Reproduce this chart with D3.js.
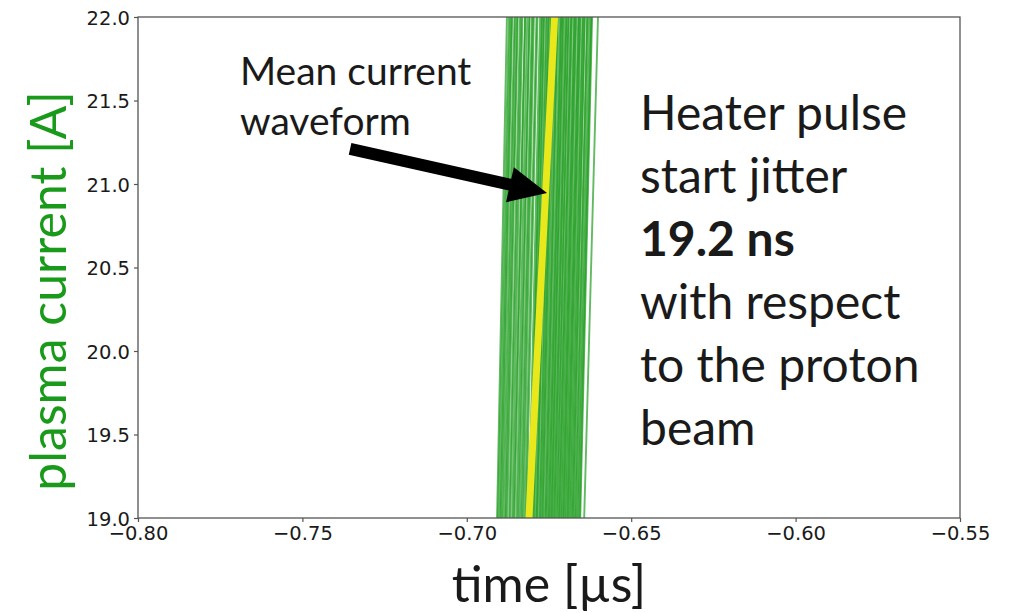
<!DOCTYPE html>
<html>
<head>
<meta charset="utf-8">
<script src="https://cdn.jsdelivr.net/npm/d3@7"></script>
<style>
  body { margin: 0; background: #fff; }
  svg { display: block; }
</style>
</head>
<body>
<svg id="chart" width="1009" height="613"></svg>
<script>
// Axis ticks
const xTicks = [-0.80, -0.75, -0.70, -0.65, -0.60, -0.55];
const yTicks = [19.0, 19.5, 20.0, 20.5, 21.0, 21.5, 22.0];
const xDomain = [-0.80, -0.55];   // time [µs]
const yDomain = [19.0, 22.0];     // plasma current [A]

// Each shot's current trace: time (µs) at which it crosses 19 A and 22 A
const shotT19 = [
  -0.6908, -0.6905, -0.6900, -0.6897, -0.6893, -0.6889, -0.6884, -0.6881, -0.6877, -0.6871,
  -0.6868, -0.6862, -0.6858, -0.6855, -0.6849, -0.6845, -0.6841, -0.6836, -0.6832, -0.6828,
  -0.6823, -0.6819,
  -0.6811, -0.6807, -0.6805, -0.6801, -0.6797, -0.6795, -0.6790, -0.6787, -0.6785, -0.6780,
  -0.6777, -0.6774, -0.6770, -0.6768, -0.6763, -0.6760, -0.6757, -0.6753, -0.6750, -0.6747,
  -0.6743, -0.6741, -0.6737, -0.6734, -0.6731, -0.6727, -0.6724, -0.6720, -0.6718, -0.6714,
  -0.6711, -0.6707, -0.6705, -0.6701, -0.6698, -0.6694, -0.6692, -0.6688, -0.6685, -0.6681,
  -0.6678, -0.6675, -0.6671, -0.6668, -0.6664, -0.6661, -0.6657, -0.6655,
  -0.6643
];
const shotT22 = [
  -0.6878, -0.6872, -0.6868, -0.6864, -0.6862, -0.6855, -0.6852, -0.6847, -0.6845, -0.6838,
  -0.6834, -0.6831, -0.6823, -0.6822, -0.6816, -0.6810, -0.6809, -0.6802, -0.6799, -0.6796,
  -0.6788, -0.6785,
  -0.6777, -0.6771, -0.6772, -0.6766, -0.6765, -0.6759, -0.6756, -0.6750, -0.6752, -0.6745,
  -0.6743, -0.6738, -0.6738, -0.6733, -0.6729, -0.6724, -0.6724, -0.6718, -0.6713, -0.6713,
  -0.6707, -0.6708, -0.6702, -0.6697, -0.6697, -0.6691, -0.6691, -0.6685, -0.6682, -0.6680,
  -0.6674, -0.6672, -0.6669, -0.6667, -0.6661, -0.6659, -0.6656, -0.6654, -0.6648, -0.6646,
  -0.6642, -0.6641, -0.6634, -0.6633, -0.6628, -0.6623, -0.6621, -0.6619,
  -0.6601
];
const shotLevels = [19.0, 22.0];

// Mean current waveform over all shots
const meanTime = [-0.6811, -0.6733];
const meanCurrent = [19.0, 22.0];

// Annotation arrow (tail, tip) in data units
const arrowTail = [-0.7355, 21.21];
const arrowTip = [-0.6756, 20.946];

const textLines = ["Heater pulse", "start jitter", "19.2 ns", "with respect", "to the proton", "beam"];

const W = 1009, H = 613;
const margin = { left: 138, right: W - 960, top: 17, bottom: H - 518 };
const svg = d3.select("#chart");

svg.append("rect").attr("width", W).attr("height", H).attr("fill", "#fff");

const x = d3.scaleLinear().domain(xDomain).range([margin.left, W - margin.right]);
const y = d3.scaleLinear().domain(yDomain).range([H - margin.bottom, margin.top]);

svg.append("defs").append("clipPath").attr("id", "plotClip")
  .append("rect")
  .attr("x", x(xDomain[0])).attr("y", y(yDomain[1]))
  .attr("width", x(xDomain[1]) - x(xDomain[0]))
  .attr("height", y(yDomain[0]) - y(yDomain[1]));

const plot = svg.append("g").attr("clip-path", "url(#plotClip)");
const line = d3.line().x(d => x(d[0])).y(d => y(d[1]));

// Individual shots
const shots = shotT19.map((t, i) => [[t, shotLevels[0]], [shotT22[i], shotLevels[1]]]);
plot.selectAll("path.shot").data(shots).join("path")
  .attr("class", "shot")
  .attr("d", line)
  .attr("fill", "none")
  .attr("stroke", "#1f9c1f")
  .attr("stroke-opacity", 0.7)
  .attr("stroke-width", 1.9);

// Mean waveform
plot.append("path")
  .datum(meanTime.map((t, i) => [t, meanCurrent[i]]))
  .attr("d", line)
  .attr("fill", "none")
  .attr("stroke", "#e8e81a")
  .attr("stroke-width", 7);

// Frame
svg.append("rect")
  .attr("x", x(xDomain[0])).attr("y", y(yDomain[1]))
  .attr("width", x(xDomain[1]) - x(xDomain[0]))
  .attr("height", y(yDomain[0]) - y(yDomain[1]))
  .attr("fill", "none").attr("stroke", "#555").attr("stroke-width", 1.3);

// Axes
const xAxis = svg.append("g")
  .attr("transform", `translate(0,${y(yDomain[0])})`)
  .call(d3.axisBottom(x).tickValues(xTicks).tickFormat(d3.format(".2f")).tickSize(4).tickPadding(4));
const yAxis = svg.append("g")
  .attr("transform", `translate(${x(xDomain[0])},0)`)
  .call(d3.axisLeft(y).tickValues(yTicks).tickFormat(d3.format(".1f")).tickSize(4).tickPadding(4));

[xAxis, yAxis].forEach(g => {
  g.select(".domain").remove();
  g.selectAll(".tick line").attr("stroke", "#555").attr("stroke-width", 1.2);
  g.selectAll(".tick text")
    .attr("fill", "#1a1a1a")
    .style("font-family", "'DejaVu Sans', sans-serif")
    .style("font-size", "19.5px");
});
yAxis.selectAll(".tick text").attr("dy", "0.36em");

// Axis titles
svg.append("text")
  .attr("x", 549).attr("y", 602)
  .attr("text-anchor", "middle")
  .style("font-family", "Lato, sans-serif")
  .style("font-size", "50px")
  .attr("fill", "#1a1a1a")
  .text("time [µs]");

svg.append("text")
  .attr("transform", "translate(66,291) rotate(-90)")
  .attr("text-anchor", "middle")
  .style("font-family", "Lato, sans-serif")
  .style("font-size", "50px")
  .attr("fill", "#1a9a1a")
  .text("plasma current [A]");

// Annotation: mean waveform label
const note = svg.append("text")
  .style("font-family", "Lato, sans-serif")
  .style("font-size", "39px")
  .attr("fill", "#1a1a1a");
note.append("tspan").attr("x", 240).attr("y", 85).text("Mean current");
note.append("tspan").attr("x", 240).attr("y", 135).text("waveform");

// Arrow pointing at the mean waveform
{
  const x0 = x(arrowTail[0]), y0 = y(arrowTail[1]);
  const x1 = x(arrowTip[0]), y1 = y(arrowTip[1]);
  const len = Math.hypot(x1 - x0, y1 - y0);
  const ang = Math.atan2(y1 - y0, x1 - x0) * 180 / Math.PI;
  const shaftW = 12, headW = 36, headL = 38;
  const pts = [
    [0, -shaftW / 2], [len - headL, -shaftW / 2], [len - headL, -headW / 2], [len, 0],
    [len - headL, headW / 2], [len - headL, shaftW / 2], [0, shaftW / 2]
  ];
  svg.append("path")
    .attr("transform", `translate(${x0},${y0}) rotate(${ang})`)
    .attr("d", d3.line()(pts) + "Z")
    .attr("fill", "#000");
}

// Jitter statement
const info = svg.append("text")
  .style("font-family", "Lato, sans-serif")
  .style("font-size", "48px")
  .attr("fill", "#1a1a1a");
textLines.forEach((s, i) => {
  info.append("tspan")
    .attr("x", 640).attr("y", 130 + i * 63)
    .style("font-weight", s === "19.2 ns" ? "bold" : "normal")
    .text(s);
});
</script>
</body>
</html>
